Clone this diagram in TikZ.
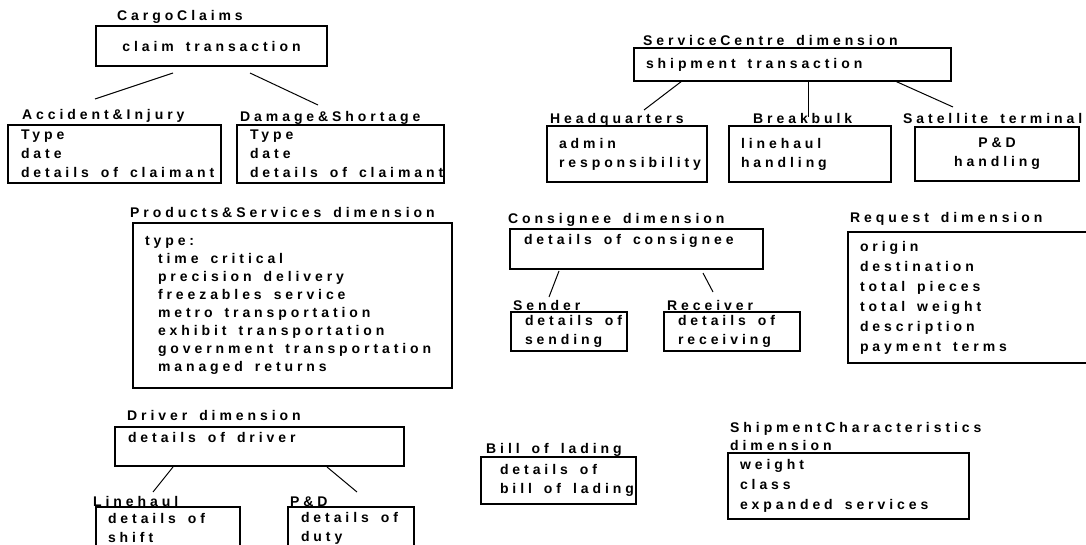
\documentclass[tikz,border=0pt]{standalone}
\usepackage{fontspec}
\setmainfont{Liberation Sans}[LetterSpace=28, WordSpace=2.5]
\usetikzlibrary{positioning,calc}

\begin{document}
\begin{tikzpicture}[
    x=1pt, y=-1pt,
    every node/.style={font=\fontsize{14}{19}\selectfont\bfseries,
                       execute at begin node={\hyphenpenalty=10000\spaceskip=12pt\relax}},
    box/.style={rectangle, draw, line width=1.5pt, anchor=north west,
                inner xsep=13pt, inner ysep=0pt, outer sep=0pt, align=left},
    title/.style={anchor=base west, inner sep=0pt},
    link/.style={line width=1pt},
]
\useasboundingbox (0,0) rectangle (1086,545);

% Boxes
\node[box, text width=205pt, minimum height=40pt, align=center] (claim) at (96,26) {claim~transaction};
\node[box, text width=187pt, minimum height=58pt] (acc) at (8,125) {Type\\date\\details~of~claimant};
\node[box, text width=181pt, minimum height=58pt] (dmg) at (237,125) {Type\\date\\details~of~claimant};

\node[box, text width=293pt, minimum height=33pt, inner xsep=12pt] (svc) at (634,48) {shipment~transaction};
\node[box, text width=136pt, minimum height=56pt, inner xsep=12pt] (hq) at (547,126) {admin\\responsibility};
\node[box, text width=138pt, minimum height=56pt, inner xsep=12pt] (bbk) at (729,126) {linehaul\\handling};
\node[box, text width=138pt, minimum height=54pt, align=center] (sat) at (915,127) {P\&D\\handling};

\node[box, text width=295pt, minimum height=165pt, inner xsep=12pt,
      font=\fontsize{14}{18}\selectfont\bfseries] (prod) at (133,223)
  {type:\\
   \hspace*{13pt}time~critical\\
   \hspace*{13pt}precision~delivery\\
   \hspace*{13pt}freezables~service\\
   \hspace*{13pt}metro~transportation\\
   \hspace*{13pt}exhibit~transportation\\
   \hspace*{13pt}government~transportation\\
   \hspace*{13pt}managed~returns};

\node[box, text width=225pt, minimum height=40pt, inner xsep=14pt, text depth=19pt] (cons) at (510,229) {details~of~consignee};
\node[box, text width=88pt, minimum height=39pt, inner xsep=14pt] (snd) at (511,312) {details~of\\sending};
\node[box, text width=108pt, minimum height=39pt, inner xsep=14pt] (rcv) at (664,312) {details~of\\receiving};

\node[box, text width=221pt, minimum height=131pt, inner xsep=12pt,
      font=\fontsize{14}{20}\selectfont\bfseries] (req) at (848,232)
  {origin\\destination\\total~pieces\\total~weight\\description\\payment~terms};

\node[box, text width=263pt, minimum height=39pt, text depth=19pt] (drv) at (115,427) {details~of~driver};
\node[box, text width=120pt, minimum height=42pt, inner xsep=12pt] (lh) at (96,507) {details~of\\shift};
\node[box, text width=100pt, minimum height=42pt, inner xsep=13pt] (pd) at (288,507) {details~of\\duty};

\node[box, text width=117pt, minimum height=47pt, inner xsep=19pt] (bol) at (481,457) {details~of\\bill~of~lading};
\node[box, text width=217pt, minimum height=66pt, inner xsep=12pt,
      font=\fontsize{14}{20}\selectfont\bfseries] (shc) at (728,453)
  {weight\\class\\expanded~services};

% Titles
\node[title] (claimT) at (117,21)  {CargoClaims};
\node[title] (accT)   at (22,120)  {Accident\&Injury};
\node[title] (dmgT)   at (240,122) {Damage\&Shortage};
\node[title] (svcT)   at (643,46)  {ServiceCentre dimension};
\node[title] (hqT)    at (550,124) {Headquarters};
\node[title] (bbkT)   at (753,124) {Breakbulk};
\node[title] (satT)   at (903,124) {Satellite terminal};
\node[title] (prodT)  at (130,218) {Products\&Services dimension};
\node[title] (consT)  at (508,224) {Consignee dimension};
\node[title] (sndT)   at (513,310) {Sender};
\node[title] (rcvT)   at (667,310) {Receiver};
\node[title] (reqT)   at (850,223) {Request dimension};
\node[title] (drvT)   at (127,420) {Driver dimension};
\node[title] (lhT)    at (93,506)  {Linehaul};
\node[title] (pdT)    at (290,506) {P\&D};
\node[title] (bolT)   at (486,453) {Bill of lading};
\node[title, anchor=north west, align=left,
      font=\fontsize{14}{18}\selectfont\bfseries] (shcT) at (730,422) {ShipmentCharacteristics\\dimension};

% Links
\draw[link] ($(claim.south west)+(77,7)$)  -- ($(acc.north west)+(87,-26)$);
\draw[link] ($(claim.south west)+(154,7)$) -- ($(dmg.north west)+(81,-20)$);
\draw[link] ($(svc.south west)+(48,0)$)    -- ($(hq.north west)+(97,-16)$);
\draw[link] ($(svc.south west)+(174,0)$)   -- ($(bbk.north west)+(79,-9)$);
\draw[link] ($(svc.south west)+(261,0)$)   -- ($(sat.north west)+(38,-20)$);
\draw[link] ($(cons.south west)+(49,2)$)   -- ($(snd.north west)+(38,-15)$);
\draw[link] ($(cons.south west)+(193,4)$)  -- ($(rcv.north west)+(49,-20)$);
\draw[link] ($(drv.south west)+(58,1)$)    -- ($(lh.north west)+(57,-15)$);
\draw[link] ($(drv.south west)+(212,1)$)   -- ($(pd.north west)+(69,-15)$);
\end{tikzpicture}
\end{document}
